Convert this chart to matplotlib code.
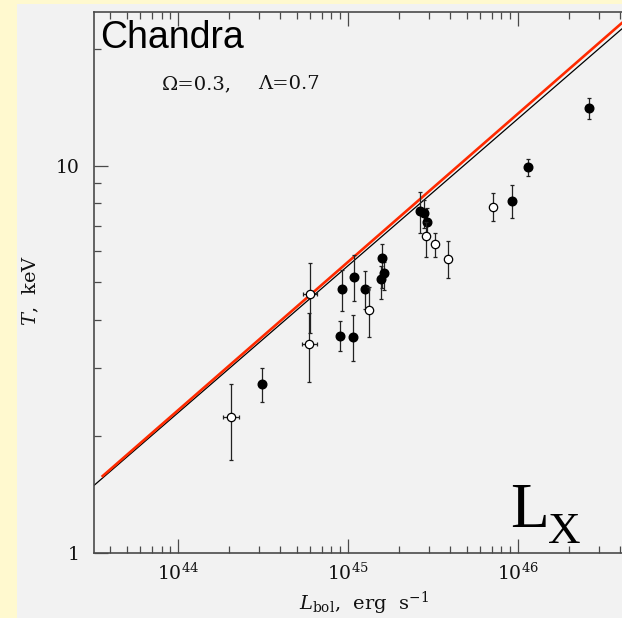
import numpy as np
import matplotlib
matplotlib.use("Agg")
import matplotlib.pyplot as plt
from matplotlib.patches import Rectangle
from matplotlib.ticker import LogLocator, NullFormatter, FixedLocator

plt.rcParams['mathtext.fontset'] = 'dejavuserif'
plt.rcParams['font.family'] = 'DejaVu Serif'

# ---- data ----
filled_L = [3.11e44, 8.98e44, 9.28e44, 1.066e45, 1.085e45, 1.251e45, 1.596e45, 1.640e45,
            1.564e45, 2.65e45, 2.80e45, 2.904e45, 9.22e45, 1.140e46, 2.627e46]
filled_T = [2.73, 3.64, 4.79, 3.62, 5.16, 4.80, 5.76, 5.29, 5.10, 7.62, 7.55, 7.14, 8.12, 9.91, 14.1]
filled_Thi = [3.00, 3.97, 5.38, 4.11, 5.88, 5.33, 6.27, 5.64, 5.49, 8.52, 8.16, 7.76, 8.92, 10.39, 14.98]
filled_Tlo = [2.45, 3.32, 4.22, 3.13, 4.47, 4.27, 4.83, 4.78, 4.53, 6.69, 6.91, 6.62, 7.31, 9.41, 13.2]

open_L = [2.05e44, 5.98e44, 5.92e44, 1.329e45, 2.888e45, 3.263e45, 3.901e45, 7.128e45]
open_Llo = [1.83e44, 5.41e44, 5.34e44, 1.329e45, 2.888e45, 3.263e45, 3.901e45, 7.128e45]
open_Lhi = [2.29e44, 6.60e44, 6.54e44, 1.329e45, 2.888e45, 3.263e45, 3.901e45, 7.128e45]
open_T = [2.24, 4.66, 3.46, 4.24, 6.57, 6.26, 5.75, 7.82]
open_Thi = [2.73, 5.60, 4.16, 4.87, 7.17, 6.69, 6.38, 8.49]
open_Tlo = [1.74, 3.70, 2.76, 3.61, 5.80, 5.82, 5.13, 7.19]

black_line_L = [3.177e43, 4.074e46]
black_line_T = [1.489, 22.5]
red_line_L = [3.606e43, 4.074e46]
red_line_T = [1.58, 23.3]

x_major = [1e44, 1e45, 1e46]
x_major_labels = [r'$10^{44}$', r'$10^{45}$', r'$10^{46}$']
y_major = [1, 10]
y_major_labels = ['1', '10']

# ---- figure ----
W, H = 622, 618
fig = plt.figure(figsize=(W / 100, H / 100), dpi=100, facecolor='#FFF9CF')
fig.patches.append(Rectangle((17 / W, 0), 1 - 17 / W, 1 - 4 / H, transform=fig.transFigure,
                             facecolor='#F2F2F2', edgecolor='none', zorder=-10))

ax = fig.add_axes([94 / W, 1 - 553 / H, 1 - 94 / W, (553 - 12) / H])
ax.set_zorder(1)
ax.set_facecolor('#F2F2F2')
ax.set_xscale('log')
ax.set_yscale('log')
ax.set_xlim(10 ** 43.506, 10 ** 46.612)
ax.set_ylim(1, 24.9)

spc = '#4a4a4a'
for s in ['left', 'bottom', 'top']:
    ax.spines[s].set_color(spc)
    ax.spines[s].set_linewidth(1.2)
ax.spines['right'].set_visible(False)

ax.plot(black_line_L, black_line_T, color='black', lw=0.9, zorder=2)
ax.plot(red_line_L, red_line_T, color='#FF2A00', lw=1.9, zorder=3)

ekw = dict(ecolor='#222222', elinewidth=0.9, capsize=1.6, capthick=0.9, linestyle='none')
fT = np.array(filled_T)
ax.errorbar(filled_L, fT, yerr=[fT - np.array(filled_Tlo), np.array(filled_Thi) - fT],
            fmt='o', ms=6.2, mfc='black', mec='black', zorder=5, **ekw)
oT = np.array(open_T)
oL = np.array(open_L)
ax.errorbar(oL, oT, yerr=[oT - np.array(open_Tlo), np.array(open_Thi) - oT],
            xerr=[oL - np.array(open_Llo), np.array(open_Lhi) - oL],
            fmt='o', ms=6.0, mfc='white', mec='black', mew=0.9, zorder=6, **ekw)

ax.xaxis.set_major_locator(FixedLocator(x_major))
ax.set_xticklabels(x_major_labels)
ax.xaxis.set_minor_locator(LogLocator(base=10, subs=np.arange(2, 10)))
ax.xaxis.set_minor_formatter(NullFormatter())
ax.set_yticks(y_major)
ax.set_yticklabels(y_major_labels)
ax.yaxis.set_minor_locator(LogLocator(base=10, subs=np.arange(2, 10)))
ax.yaxis.set_minor_formatter(NullFormatter())

ax.tick_params(which='both', direction='in', color=spc, width=0.9,
               top=True, right=False, labelsize=13.5, labelcolor='#111111')
ax.tick_params(which='major', length=10)
ax.tick_params(which='minor', length=5)
ax.tick_params(axis='y', pad=10)
ax.tick_params(axis='x', pad=7)

ax.text(0.0114, 0.9335, 'Chandra', transform=ax.transAxes, family='Liberation Sans',
        fontsize=27, ha='left', va='baseline', color='black')
ax.text(0.1288, 0.8577, 'Ω=0.3,', transform=ax.transAxes, fontsize=14,
        ha='left', va='baseline', color='#111111')
ax.text(0.3106, 0.8577, 'Λ=0.7', transform=ax.transAxes, fontsize=14,
        ha='left', va='baseline', color='#111111')
ax.text(0.789, 0.0486, 'L', transform=ax.transAxes, family='Liberation Serif',
        fontsize=45.5, ha='left', va='baseline', color='black')
ax.text(0.8598, 0.0185, 'X', transform=ax.transAxes, family='Liberation Serif',
        fontsize=32.5, ha='left', va='baseline', color='black')

fig.text(364 / W, 1 - 610 / H, r'$L_{\rm bol}$,  erg  s$^{-1}$', fontsize=14,
         ha='center', va='baseline', color='#111111', zorder=5)
fig.text(31 / W, 1 - 290 / H, r'$T$,  keV', fontsize=14, rotation=90,
         ha='center', va='center', color='#111111', zorder=5)

fig.savefig('out.png', dpi=100, facecolor=fig.get_facecolor())
